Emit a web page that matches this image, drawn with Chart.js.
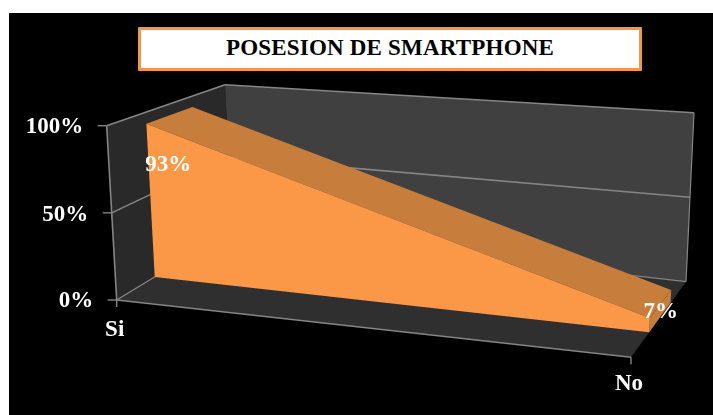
<!DOCTYPE html>
<html>
<head>
<meta charset="utf-8">
<script src="https://cdn.jsdelivr.net/npm/chart.js@4/dist/chart.umd.min.js"></script>
<style>
  html, body { margin: 0; padding: 0; background: #fff; overflow: hidden; }
  #wrap { position: relative; width: 713px; height: 415px; }
  #chart { position: absolute; left: 0; top: 0; }
  #title {
    position: absolute; left: 138px; top: 27px; width: 498px; height: 38px;
    background: #fff; border: 3px solid #f79646; border-radius: 1px;
    font: bold 23px "Liberation Serif", serif; color: #000;
    text-align: center; line-height: 36px; letter-spacing: 0.2px;
  }
</style>
</head>
<body>
<div id="wrap">
  <canvas id="chart" width="713" height="415"></canvas>
  <div id="title">POSESION DE SMARTPHONE</div>
</div>
<script>
const categories = ['Si', 'No'];
const values = [93, 7];
const valueLabels = ['93%', '7%'];
const yTicks = [0, 50, 100];

// 3d box the excel chart sits in: [u][v][w] = category, value, depth
const box = {
  frontBottomLeft: [116.7, 300], frontTopLeft: [106.7, 125.7],
  backBottomLeft: [232, 230], backTopLeft: [225, 84.7],
  frontBottomRight: [631, 357.3], frontTopRight: [642, 135],
  backBottomRight: [686, 281.7], backTopRight: [694, 112.7]
};
const areaFront = 0.33;
const areaBack = 0.72;
const labelShift = [[22, 41], [11, -6]];
const labelFont = 'bold 23px "Liberation Serif", serif';

function mix(a, b, t) {
  return [a[0] + (b[0] - a[0]) * t, a[1] + (b[1] - a[1]) * t];
}

function project(u, v, w) {
  const bottom = mix(mix(box.frontBottomLeft, box.frontBottomRight, u), mix(box.backBottomLeft, box.backBottomRight, u), w);
  const top = mix(mix(box.frontTopLeft, box.frontTopRight, u), mix(box.backTopLeft, box.backTopRight, u), w);
  return mix(bottom, top, v);
}

function poly(ctx, pts, fill) {
  ctx.beginPath();
  pts.forEach((p, i) => i ? ctx.lineTo(p[0], p[1]) : ctx.moveTo(p[0], p[1]));
  ctx.closePath();
  ctx.fillStyle = fill;
  ctx.fill();
}

function line(ctx, a, b, color, width) {
  ctx.beginPath();
  ctx.moveTo(a[0], a[1]);
  ctx.lineTo(b[0], b[1]);
  ctx.strokeStyle = color;
  ctx.lineWidth = width;
  ctx.stroke();
}

const box3d = {
  id: 'box3d',
  beforeDraw(chart) {
    const ctx = chart.ctx;
    ctx.save();
    ctx.fillStyle = '#fff';
    ctx.fillRect(0, 0, chart.width, chart.height);
    ctx.fillStyle = '#000';
    ctx.fillRect(9, 13, chart.width - 9, chart.height - 13);
    ctx.restore();
  },
  afterDraw(chart) {
    const ctx = chart.ctx;
    const xs = chart.scales.x;
    const ys = chart.scales.y;
    const uOf = i => xs.getDecimalForPixel(xs.getPixelForValue(i));
    const vOf = val => ys.getDecimalForPixel(ys.getPixelForValue(val));
    const grey = '#858585';
    ctx.save();

    // walls and floor
    poly(ctx, [project(0, 0, 0), project(0, 1, 0), project(0, 1, 1), project(0, 0, 1)], '#292929');
    poly(ctx, [project(0, 0, 1), project(0, 1, 1), project(1, 1, 1), project(1, 0, 1)], '#404040');
    poly(ctx, [project(0, 0, 0), project(0, 0, 1), project(1, 0, 1), project(1, 0, 0)], '#2f2f2f');

    // y ticks and gridlines
    ys.ticks.forEach(t => {
      const v = vOf(t.value);
      const a = project(0, v, 0);
      if (t.value > 0) {
        line(ctx, a, project(0, v, 1), grey, 1.6);
        line(ctx, project(0, v, 1), project(1, v, 1), grey, 1.6);
      }
      line(ctx, [a[0] - 9, a[1]], a, grey, 1.4);
      ctx.font = labelFont;
      ctx.fillStyle = '#fff';
      ctx.textAlign = 'right';
      ctx.textBaseline = 'middle';
      ctx.fillText(t.label, a[0] - 23.5, a[1] + (t.value === 50 ? 2 : 1));
    });

    // frame edges
    line(ctx, project(0, 0, 0), project(0, 1, 0), grey, 1.6);
    line(ctx, project(0, 0, 0), project(1, 0, 0), grey, 1.6);
    line(ctx, project(0, 0, 0), project(0, 0, 1), grey, 1.4);
    line(ctx, project(0, 0, 1), project(1, 0, 1), grey, 1.2);
    line(ctx, project(1, 0, 1), project(1, 1, 1), grey, 1.2);

    // x ticks
    xs.ticks.forEach((t, i) => {
      const a = project(uOf(i), 0, 0);
      line(ctx, a, [a[0], a[1] + 7], grey, 1.4);
      ctx.font = labelFont;
      ctx.fillStyle = '#fff';
      ctx.textAlign = 'center';
      ctx.textBaseline = 'middle';
      ctx.fillText(t.label, a[0] - 2, a[1] + (i ? 27 : 30));
    });

    // area: far end, top, then front face
    const data = chart.data.datasets[0].data;
    const u0 = uOf(0), u1 = uOf(data.length - 1);
    const v0 = vOf(data[0]), v1 = vOf(data[data.length - 1]);
    poly(ctx, [project(u1, v1, areaFront), project(u1, v1, areaBack), project(u1, 0, areaBack), project(u1, 0, areaFront)], '#c77d3b');
    poly(ctx, [project(u0, v0, areaFront), project(u0, v0, areaBack), project(u1, v1, areaBack), project(u1, v1, areaFront)], '#c77d3b');
    poly(ctx, [project(u0, 0, areaFront), project(u0, v0, areaFront), project(u1, v1, areaFront), project(u1, 0, areaFront)], '#fb9848');

    // data labels
    ctx.font = labelFont;
    ctx.fillStyle = '#fff';
    ctx.textAlign = 'center';
    ctx.textBaseline = 'middle';
    data.forEach((val, i) => {
      const p = project(uOf(i), vOf(val), areaFront);
      ctx.fillText(valueLabels[i], p[0] + labelShift[i][0], p[1] + labelShift[i][1]);
    });
    ctx.restore();
  }
};

new Chart(document.getElementById('chart'), {
  type: 'line',
  data: {
    labels: categories,
    datasets: [{ label: 'Posesion', data: values, showLine: false, pointRadius: 0, fill: false }]
  },
  options: {
    responsive: false,
    animation: false,
    plugins: { legend: { display: false }, tooltip: { enabled: false } },
    scales: {
      x: { display: false, offset: false },
      y: {
        display: false,
        min: yTicks[0],
        max: yTicks[yTicks.length - 1],
        ticks: { stepSize: yTicks[1] - yTicks[0], callback: v => v + '%' }
      }
    }
  },
  plugins: [box3d]
});
</script>
</body>
</html>
